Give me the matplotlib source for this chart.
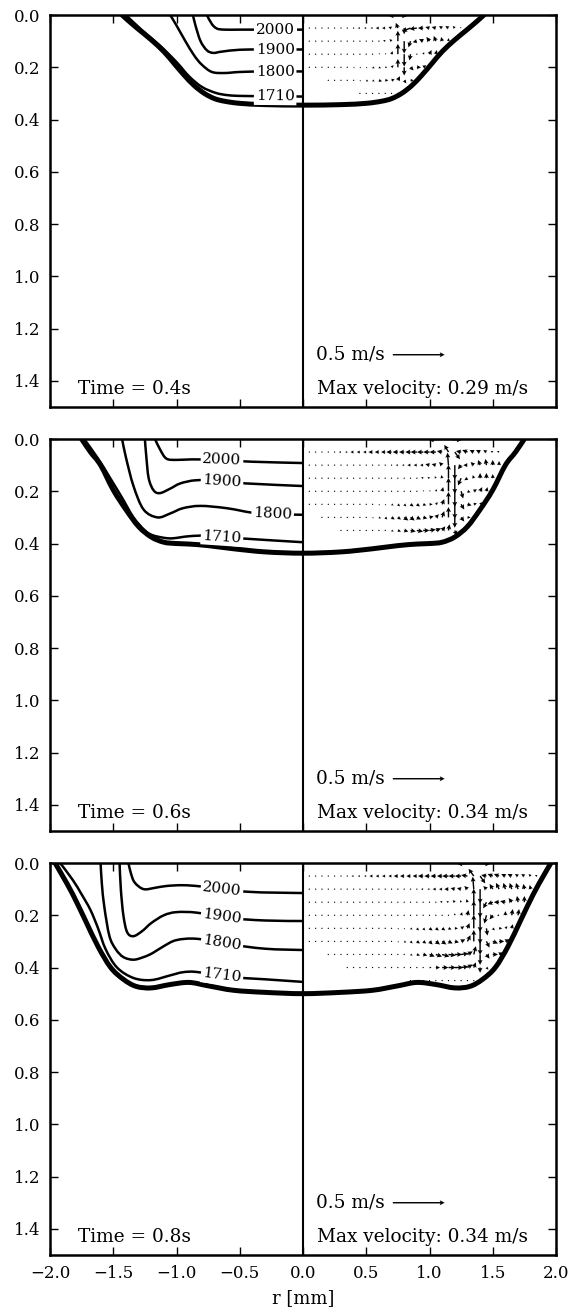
import numpy as np
import matplotlib.pyplot as plt
from matplotlib.path import Path
from matplotlib.patches import PathPatch

plt.rcParams['font.family'] = 'DejaVu Serif'
plt.rcParams['font.size'] = 12

times = ['0.4', '0.6', '0.8']
max_vel = ['0.29', '0.34', '0.34']
levels = [2000, 1900, 1800, 1710]

# melt pool boundary: depth [mm] against radius [mm], same on both sides
pool_r_04 = [0.0, 0.3, 0.5, 0.62, 0.7, 0.78, 0.86, 0.94, 1.02, 1.1, 1.2, 1.3, 1.38, 1.43]
pool_d_04 = [0.345, 0.343, 0.338, 0.33, 0.32, 0.30, 0.27, 0.23, 0.185, 0.14, 0.095, 0.055, 0.022, 0.0]
pool_r_06 = [0.0, 0.3, 0.55, 0.75, 0.9, 1.0, 1.1, 1.2, 1.3, 1.4, 1.5, 1.6, 1.68, 1.75]
pool_d_06 = [0.437, 0.432, 0.42, 0.408, 0.402, 0.40, 0.395, 0.375, 0.335, 0.27, 0.195, 0.10, 0.05, 0.0]
pool_r_08 = [0.0, 0.3, 0.55, 0.75, 0.9, 1.05, 1.2, 1.32, 1.42, 1.52, 1.62, 1.72, 1.82, 1.9, 1.96]
pool_d_08 = [0.50, 0.495, 0.487, 0.47, 0.457, 0.465, 0.478, 0.472, 0.445, 0.40, 0.32, 0.22, 0.12, 0.05, 0.0]

# isotherms on the left half (r < 0)
iso_04 = {
    2000: ([-0.76, -0.72, -0.68, -0.62, -0.5, -0.3, 0.0],
           [0.0, 0.035, 0.052, 0.056, 0.056, 0.056, 0.056]),
    1900: ([-0.87, -0.85, -0.81, -0.76, -0.71, -0.64, -0.5, -0.3, 0.0],
           [0.0, 0.04, 0.10, 0.135, 0.145, 0.14, 0.133, 0.132, 0.132]),
    1800: ([-1.05, -1.0, -0.93, -0.86, -0.8, -0.72, -0.62, -0.5, -0.3, 0.0],
           [0.0, 0.04, 0.10, 0.155, 0.19, 0.218, 0.222, 0.218, 0.216, 0.216]),
    1710: ([-1.40, -1.28, -1.135, -1.0, -0.9, -0.8, -0.69, -0.59, -0.45, 0.0],
           [0.0, 0.055, 0.115, 0.18, 0.235, 0.275, 0.298, 0.307, 0.31, 0.312]),
}
iso_06 = {
    2000: ([-1.17, -1.13, -1.08, -1.0, -0.88, -0.7, -0.4, 0.0],
           [0.0, 0.04, 0.075, 0.08, 0.078, 0.08, 0.087, 0.092]),
    1900: ([-1.25, -1.24, -1.22, -1.18, -1.13, -1.05, -0.97, -0.85, -0.7, -0.45, 0.0],
           [0.0, 0.06, 0.15, 0.197, 0.207, 0.19, 0.17, 0.158, 0.16, 0.17, 0.18]),
    1800: ([-1.43, -1.4, -1.34, -1.26, -1.15, -1.05, -0.95, -0.81, -0.6, -0.35, 0.0],
           [0.0, 0.07, 0.18, 0.27, 0.30, 0.285, 0.265, 0.256, 0.265, 0.285, 0.29]),
    1710: ([-1.73, -1.62, -1.53, -1.43, -1.34, -1.25, -1.19, -1.1, -1.03, -0.9, -0.75, -0.5, 0.0],
           [0.0, 0.075, 0.145, 0.225, 0.30, 0.35, 0.368, 0.378, 0.38, 0.372, 0.37, 0.38, 0.395]),
}
iso_08 = {
    2000: ([-1.38, -1.36, -1.33, -1.26, -1.17, -1.08, -0.95, -0.8, -0.44, 0.0],
           [0.0, 0.04, 0.075, 0.10, 0.095, 0.088, 0.085, 0.09, 0.11, 0.115]),
    1900: ([-1.45, -1.44, -1.42, -1.39, -1.34, -1.27, -1.2, -1.1, -1.0, -0.84, -0.6, -0.3, 0.0],
           [0.0, 0.1, 0.2, 0.265, 0.28, 0.26, 0.23, 0.2, 0.188, 0.19, 0.21, 0.22, 0.222]),
    1800: ([-1.6, -1.59, -1.57, -1.53, -1.48, -1.42, -1.34, -1.26, -1.19, -1.1, -1.0, -0.84, -0.6, -0.3, 0.0],
           [0.0, 0.08, 0.17, 0.28, 0.33, 0.36, 0.37, 0.36, 0.345, 0.318, 0.295, 0.29, 0.31, 0.328, 0.333]),
    1710: ([-1.92, -1.82, -1.75, -1.68, -1.62, -1.56, -1.47, -1.34, -1.2, -1.05, -0.95, -0.84, -0.6, -0.3, 0.0],
           [0.0, 0.065, 0.12, 0.18, 0.25, 0.33, 0.40, 0.44, 0.448, 0.43, 0.418, 0.417, 0.435, 0.445, 0.455]),
}
label_x_04 = [-0.22, -0.22, -0.22, -0.22]
label_x_06 = [-0.64, -0.64, -0.24, -0.64]
label_x_08 = [-0.64, -0.64, -0.64, -0.64]

# velocity sample rows (right half): depth, first and last r with a sample
dot_d_04 = [0.05, 0.10, 0.15, 0.20, 0.25, 0.30]
dot_x0_04 = [0.05, 0.05, 0.05, 0.05, 0.20, 0.45]
dot_x1_04 = [1.25, 1.15, 1.05, 0.95, 0.85, 0.75]
dot_d_06 = [0.05, 0.10, 0.15, 0.20, 0.25, 0.30, 0.35]
dot_x0_06 = [0.05, 0.05, 0.05, 0.05, 0.05, 0.15, 0.30]
dot_x1_06 = [1.55, 1.55, 1.50, 1.45, 1.40, 1.35, 1.25]
dot_d_08 = [0.05, 0.10, 0.15, 0.20, 0.25, 0.30, 0.35, 0.40, 0.45]
dot_x0_08 = [0.05, 0.05, 0.05, 0.05, 0.05, 0.05, 0.20, 0.35, 0.85]
dot_x1_08 = [1.85, 1.80, 1.75, 1.70, 1.65, 1.60, 1.55, 1.50, 1.40]

# velocity [m/s] along rows: (depth, first r, u values, v values), r step 0.05, v>0 upwards
flow_04 = [
    (0.00, 0.70, [0.15, 0, -0.15], [-0.01, 0, -0.01]),
    (0.05, 0.35,
     [-.01, -.01, -.02, -.02, -.02, -.03, -.03, -.03, -.02, 0, -.08, -.07, -.05, -.04, -.04, -.03, -.03, -.02, -.01],
     [0, 0, 0, 0, 0, 0, 0, .01, .05, -.06, -.03, -.01, 0, .01, .01, .02, .02, .02, .01]),
    (0.10, 0.55,
     [-.01, -.01, -.02, -.02, 0, 0, -.02, -.04, -.04, -.03, -.02, -.01, 0],
     [0, 0, .01, .02, .10, -.12, -.06, -.01, .02, .04, .05, .04, .03]),
    (0.15, 0.55,
     [0, .01, .01, .01, 0, 0, -.01, 0, .01, .02, .01],
     [0, .01, .01, .03, .10, -.12, -.06, -.01, .02, .04, .04]),
    (0.20, 0.40,
     [.01, .01, .01, .02, .02, .02, .02, 0, 0, .03, .04, .03],
     [-.01, -.01, -.01, -.01, -.01, 0, .02, .08, -.08, -.03, 0, .02]),
    (0.25, 0.45,
     [.01, .02, .02, .03, .03, .03, .02, .02, .03],
     [-.01, -.01, -.01, -.01, 0, .01, .04, -.03, 0]),
]
flow_06 = [
    (0.00, 1.05, [0.25, 0, 0, -0.25], [-0.01, 0, 0, -0.01]),
    (0.05, 0.30,
     [-.02, -.02, -.03, -.03, -.03, -.04, -.04, -.04, -.05, -.05, -.05, -.05, -.06, -.06, -.06, -.06, -.05, -.04, .05,
      -.05, -.05, -.04, -.04, -.03, -.02, -.02],
     [0, 0, 0, 0, 0, 0, 0, 0, 0, 0, 0, 0, 0, 0, 0, 0, .01, .07, -.07, .01, .02, .02, .02, .02, .01, .01]),
    (0.10, 0.65,
     [-.01, -.01, -.02, -.02, -.03, -.03, -.03, -.04, -.04, -.03, -.01, 0, -.03, -.04, -.03, -.02, -.01, 0, 0],
     [0, 0, 0, 0, 0, 0, 0, .01, .01, .03, .12, -.14, -.04, 0, .03, .05, .06, .05, .04]),
    (0.15, 0.85,
     [-.01, -.01, -.02, -.02, -.01, -.01, 0, 0, -.03, -.03, -.01, 0, 0, 0],
     [0, 0, .01, .01, .02, .03, .13, -.15, -.07, -.02, .03, .05, .05, .04]),
    (0.20, 0.90,
     [0, .01, .01, .01, .01, 0, 0, .02, .03, .03, .02, .01],
     [0, .01, .01, .02, .04, .13, -.15, -.07, -.01, .02, .04, .04]),
    (0.25, 0.60,
     [.01, .01, .02, .02, .02, .03, .03, .03, .03, .02, .02, 0, 0, .03, .04, .03, .02],
     [-.01, -.01, -.01, -.02, -.02, -.02, -.02, -.01, 0, .02, .05, .12, -.14, -.05, -.01, .01, .02]),
    (0.30, 0.55,
     [.01, .02, .02, .03, .03, .04, .04, .04, .04, .04, .03, .02, 0, 0, .03, .03, .02],
     [-.01, -.01, -.02, -.02, -.02, -.03, -.03, -.02, -.01, .01, .03, .06, .10, -.10, -.04, 0, .02]),
    (0.35, 0.70,
     [.02, .03, .04, .05, .06, .06, .06, .05, .03, .01, .02, .02],
     [-.01, -.01, -.01, -.01, -.01, 0, .01, .02, .04, .06, -.05, -.01]),
]
flow_08 = [
    (0.00, 1.25, [0.28, 0, 0, 0, -0.28], [-0.01, 0, 0, 0, -0.01]),
    (0.05, 0.40,
     [-.02, -.02, -.02, -.03, -.03, -.03, -.03, -.04, -.04, -.04, -.04, -.05, -.05, -.05, -.05, -.06, -.06, -.06, -.06,
      -.05, .05, -.05, -.05, -.05, -.04, -.04, -.03, -.03, -.02, -.02],
     [0, 0, 0, 0, 0, 0, 0, 0, 0, 0, 0, 0, 0, 0, 0, 0, 0, 0, .01, .07, -.07, .01, .02, .02, .02, .02, .02, .02, .02, .01]),
    (0.10, 0.90,
     [-.01, -.02, -.02, -.03, -.03, -.04, -.04, -.04, -.03, -.01, 0, -.03, -.03, -.03, -.02, -.02, -.02, -.01, -.01],
     [0, 0, 0, 0, 0, 0, .01, .01, .03, .12, -.14, .03, .05, .06, .06, .06, .06, .05, .04]),
    (0.15, 1.05,
     [-.01, -.02, -.02, -.02, -.01, -.01, 0, 0, -.03, -.05, -.05, -.05, -.03, -.01, 0],
     [0, .01, .01, .02, .02, .03, .13, -.15, -.06, -.02, 0, .01, .04, .06, .06]),
    (0.20, 1.15,
     [0, 0, .01, .01, 0, 0, -.02, -.03, -.02, 0, .01, .01],
     [.01, .02, .03, .05, .14, -.16, -.08, -.04, 0, .04, .06, .06]),
    (0.25, 0.75,
     [.01, .01, .02, .02, .02, .03, .03, .03, .03, .03, .03, .02, 0, 0, .01, .02, .03, .02, .01],
     [-.01, -.01, -.01, -.02, -.02, -.02, -.02, -.02, -.01, 0, .02, .05, .13, -.15, -.07, -.02, 0, .02, .04]),
    (0.30, 0.75,
     [.01, .02, .02, .03, .03, .03, .04, .04, .04, .04, .04, .03, 0, 0, .03, .05, .05, .04],
     [-.01, -.01, -.02, -.02, -.02, -.03, -.03, -.03, -.02, -.01, .02, .06, .11, -.13, -.06, -.02, 0, .02]),
    (0.35, 0.85,
     [.02, .03, .04, .05, .06, .07, .07, .07, .07, .05, .02, 0, .03, .05, .04],
     [-.01, -.01, -.01, -.02, -.02, -.02, -.01, 0, .01, .03, .08, -.10, -.04, 0, .02]),
    (0.40, 1.00,
     [.02, .04, .06, .07, .08, .07, .05, .02, 0, .02, .02],
     [0, 0, 0, 0, 0, .01, .03, .05, -.05, -.02, 0]),
]

panels = [
    (pool_r_04, pool_d_04, iso_04, label_x_04, (dot_d_04, dot_x0_04, dot_x1_04), flow_04),
    (pool_r_06, pool_d_06, iso_06, label_x_06, (dot_d_06, dot_x0_06, dot_x1_06), flow_06),
    (pool_r_08, pool_d_08, iso_08, label_x_08, (dot_d_08, dot_x0_08, dot_x1_08), flow_08),
]

STEP = 0.05
SCALE = 0.5 / 0.41   # m/s per mm of arrow


def velocity_grid(dots, flow):
    field = {}
    for d, x0, x1 in zip(*dots):
        n = int(round((x1 - x0) / STEP)) + 1
        for i in range(n):
            field[(round(x0 + i * STEP, 2), d)] = (0.0, 0.0)
    for d, x0, us, vs in flow:
        for i, (u, v) in enumerate(zip(us, vs)):
            field[(round(x0 + i * STEP, 2), d)] = (u, v)
    keys = sorted(field)
    x = np.array([k[0] for k in keys])
    y = np.array([k[1] for k in keys])
    u = np.array([field[k][0] for k in keys])
    v = np.array([field[k][1] for k in keys])
    return x, y, u, v


def smooth_path(x, y):
    # Catmull-Rom through the points, written as cubic Bezier segments
    p = np.column_stack([x, y]).astype(float)
    ext = np.vstack([p[0], p, p[-1]])
    verts = [p[0]]
    codes = [Path.MOVETO]
    for i in range(len(p) - 1):
        a, b, c, d = ext[i], ext[i + 1], ext[i + 2], ext[i + 3]
        verts += [b + (c - a) / 6, c - (d - b) / 6, c]
        codes += [Path.CURVE4] * 3
    return Path(verts, codes)


fig = plt.figure(figsize=(5.74, 13.12), dpi=100)
left, width = 50 / 574, 506 / 574
height = 392 / 1312
bottoms = [1 - 407 / 1312, 1 - 831 / 1312, 1 - 1255 / 1312]

for k, (pr, pd_, iso, lab_x, dots, flow) in enumerate(panels):
    ax = fig.add_axes([left, bottoms[k], width, height])
    ax.set_xlim(-2, 2)
    ax.set_ylim(1.5, 0)
    ax.set_xticks(np.arange(-2, 2.01, 0.5))
    ax.set_yticks(np.arange(0, 1.41, 0.2))
    ax.tick_params(direction='in', top=True, right=True, length=6, width=1,
                   pad=7, labelsize=12, labelbottom=(k == 2))
    for sp in ax.spines.values():
        sp.set_linewidth(1.8)

    ax.axvline(0, color='k', lw=1.5, zorder=3)

    # melt pool boundary, mirrored about the axis
    pr = np.asarray(pr)
    pd_ = np.asarray(pd_)
    bx = np.concatenate([-pr[::-1], pr[1:]])
    by = np.concatenate([pd_[::-1], pd_[1:]])
    ax.add_patch(PathPatch(smooth_path(bx, by), fill=False, ec='k', lw=3.6,
                           capstyle='round', joinstyle='round', zorder=4))

    # isotherms with inline labels
    for lev, lx in zip(levels, lab_x):
        r, d = iso[lev]
        ax.add_patch(PathPatch(smooth_path(r, d), fill=False, ec='k', lw=1.8,
                               joinstyle='round', zorder=3))
        ly = np.interp(lx, r, d)
        p0 = ax.transData.transform((lx - 0.15, np.interp(lx - 0.15, r, d)))
        p1 = ax.transData.transform((lx + 0.15, np.interp(lx + 0.15, r, d)))
        ang = np.degrees(np.arctan2(p1[1] - p0[1], p1[0] - p0[0]))
        ax.text(lx, ly, str(lev), fontsize=11, ha='center', va='center',
                rotation=ang, rotation_mode='anchor', zorder=5,
                bbox=dict(boxstyle='square,pad=0.12', fc='white', ec='none'))

    # velocity field on the right half
    qx, qy, qu, qv = velocity_grid(dots, flow)
    q = ax.quiver(qx, qy, qu, qv, angles='uv', scale_units='x', scale=SCALE,
                  width=0.0028, headwidth=3.5, headlength=3.5, headaxislength=3,
                  color='k', zorder=2)
    ax.quiverkey(q, 0.71, 1.30, 0.5, '0.5 m/s', coordinates='data', labelpos='W',
                 labelsep=0.08, fontproperties={'family': 'DejaVu Serif', 'size': 13.3})

    ax.text(-1.78, 1.43, 'Time = %ss' % times[k], ha='left', va='center', fontsize=13.3)
    ax.text(0.11, 1.43, 'Max velocity: %s m/s' % max_vel[k], ha='left', va='center', fontsize=13.3)

    if k == 2:
        ax.set_xlabel('r [mm]', fontsize=13, labelpad=5)

fig.savefig('out.png', dpi=100)
